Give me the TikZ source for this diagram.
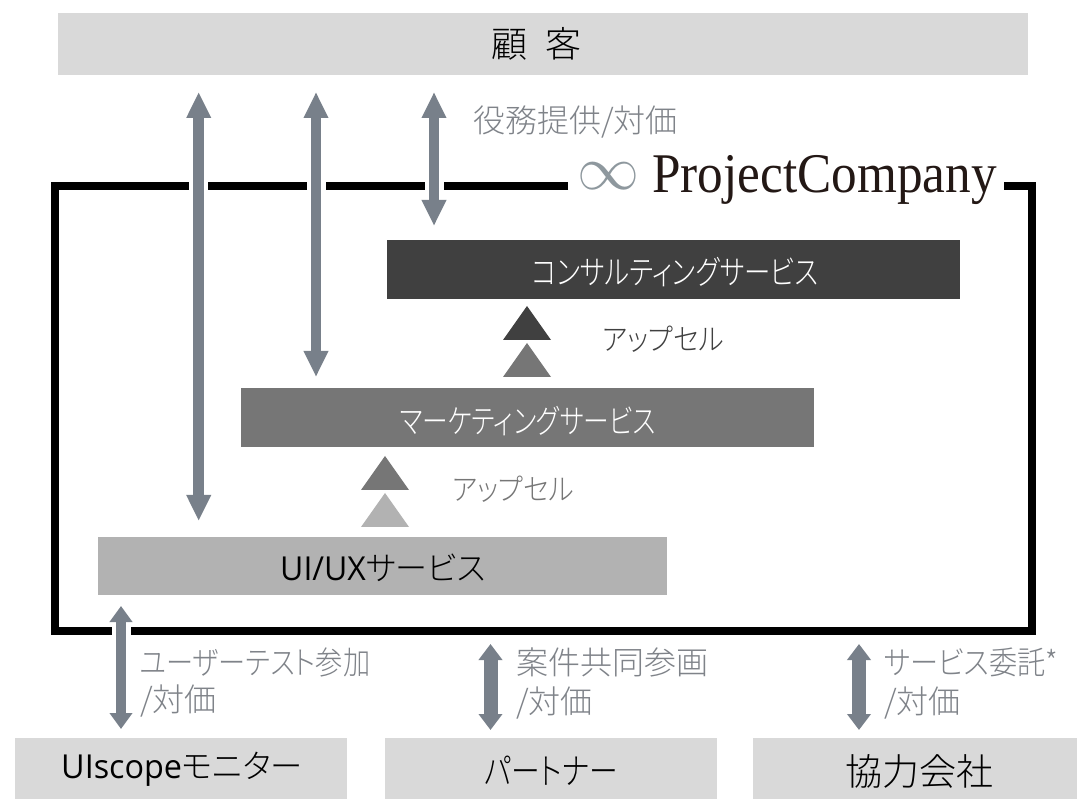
\documentclass[tikz,border=0pt]{standalone}
\usepackage{fontspec}
\setmainfont[RawFeature=+palt]{Noto Sans CJK JP Light}
\newfontfamily\logofont{Liberation Serif}
\newfontfamily\latinfont{Open Sans}
\usetikzlibrary{arrows.meta}
\definecolor{lightbox}{HTML}{D9D9D9}
\definecolor{uibox}{HTML}{B2B2B2}
\definecolor{mktbox}{HTML}{767676}
\definecolor{conbox}{HTML}{404040}
\definecolor{arrowgrey}{HTML}{78808A}
\definecolor{infgrey}{HTML}{8E989E}
\definecolor{labelgrey}{HTML}{7F8389}
\definecolor{logotext}{HTML}{231815}
\tikzset{
 x=1pt,y=-1pt,
 boxbase/.style={anchor=north west,inner sep=0pt,outer sep=0pt,align=center},
 twoway/.style={draw=arrowgrey,line width=10.5pt,{Triangle[width=23pt,length=26pt,fill=arrowgrey]}-{Triangle[width=23pt,length=26pt,fill=arrowgrey]}},
 twowaymid/.style={draw=arrowgrey,line width=10pt,{Triangle[width=22pt,length=16pt,fill=arrowgrey]}-{Triangle[width=22pt,length=16pt,fill=arrowgrey]}},
 twowayshort/.style={draw=arrowgrey,line width=14pt,{Triangle[width=23pt,length=16pt,fill=arrowgrey]}-{Triangle[width=23pt,length=16pt,fill=arrowgrey]}},
 frameline/.style={draw=black,line width=8pt,line join=miter,line cap=butt},
 lab/.style={text=labelgrey,font=\fontsize{32}{32}\selectfont,anchor=west,inner sep=0pt,align=left},
 up/.style={text=#1,font=\fontsize{30}{30}\selectfont,anchor=west,inner sep=0pt,xscale=.9},
}
\begin{document}
\begin{tikzpicture}
\useasboundingbox (0,0) rectangle (1077,799);
\fill[white] (0,0) rectangle (1077,799);
% frame
\coordinate (f1) at (568,186.3);
\coordinate (f2) at (55,186.3);
\coordinate (f3) at (55,631);
\coordinate (f4) at (1032,631);
\coordinate (f5) at (1032,186.3);
\coordinate (f6) at (1004,186.3);
\draw[frameline] (f1) -- (f2) -- (f3) -- (f4) -- (f5) -- (f6);
% boxes
\node[boxbase,fill=lightbox,minimum width=970pt,minimum height=62pt] (cust) at (58,13) {};
\node[text=black,font=\fontsize{36}{36}\selectfont] at (536,44) {顧\hspace{18pt}客};
\node[boxbase,fill=conbox,minimum width=573pt,minimum height=59pt] (con) at (387,240) {};
\node[text=white,font=\fontsize{33}{33}\selectfont,xscale=.8] at (675,272.5) {コンサルティングサービス};
\node[boxbase,fill=mktbox,minimum width=573pt,minimum height=59pt] (mkt) at (241,388) {};
\node[text=white,font=\fontsize{33}{33}\selectfont,xscale=.78] at (528,421) {マーケティングサービス};
\node[boxbase,fill=uibox,minimum width=569pt,minimum height=58pt] (ui) at (98,537) {};
\node[text=black,font=\fontsize{33}{33}\selectfont,xscale=.97] at (383,568) {{\latinfont UI/UX}サービス};
\node[boxbase,fill=lightbox,minimum width=332pt,minimum height=61pt] (mon) at (15,738) {};
\node[text=black,font=\fontsize{33}{33}\selectfont,xscale=.98] at (182,769) {{\latinfont UIscope}モニター};
\node[boxbase,fill=lightbox,minimum width=332pt,minimum height=61pt] (par) at (385,738) {};
\node[text=black,font=\fontsize{36}{36}\selectfont,xscale=.8] at (551,771) {パートナー};
\node[boxbase,fill=lightbox,minimum width=324pt,minimum height=61pt] (coop) at (753,738) {};
\node[text=black,font=\fontsize{37}{37}\selectfont] at (919,771) {協力会社};
% logo
\node[text=logotext,font=\logofont\fontsize{56}{56}\selectfont,anchor=west,inner sep=0pt,xscale=.915] (logo) at (652,180) {ProjectCompany};
\node[text=infgrey,scale=6.2,anchor=center,inner sep=0pt] (inf) at (608.5,189.5) {\smash{$\infty$}};
% arrows
\coordinate (a1t) at (198.7,92); \coordinate (a1b) at (198.7,521);
\coordinate (a2t) at (316,92); \coordinate (a2b) at (316,377);
\coordinate (a3t) at (434,92); \coordinate (a3b) at (434,226);
\coordinate (a4t) at (121,606); \coordinate (a4b) at (121,729);
\coordinate (a5t) at (490.5,644); \coordinate (a5b) at (490.5,730);
\coordinate (a6t) at (859,644); \coordinate (a6b) at (859,730);
\draw[white,line width=19pt] (198.7,180) -- (198.7,193) (316,180) -- (316,193) (434,180) -- (434,193) (121,625) -- (121,637);
\draw[twoway] (a1t) -- (a1b);
\draw[twoway] (a2t) -- (a2b);
\draw[twoway] (a3t) -- (a3b);
\draw[twowaymid] (a4t) -- (a4b);
\draw[twowayshort] (a5t) -- (a5b);
\draw[twowayshort] (a6t) -- (a6b);
% labels
\node[lab] (l1) at (473,122) {役務提供/対価};
\node[lab,xscale=.85] (l2) at (140,662) {ユーザーテスト参加};
\node[lab] (l2b) at (140,701) {/対価};
\node[lab] (l3) at (516,662) {案件共同参画};
\node[lab] (l3b) at (516,703) {/対価};
\node[lab,xscale=.88] (l4) at (884,662) {サービス委託*};
\node[lab] (l4b) at (884,703) {/対価};
\node[up=conbox] (up1) at (602,339) {アップセル};
\node[up=mktbox] (up2) at (452,489) {アップセル};
% triangles
\fill[conbox] (527,306) -- (551,340) -- (503,340) -- cycle;
\fill[mktbox] (527,343) -- (551,377) -- (503,377) -- cycle;
\fill[mktbox] (385,456) -- (409,490) -- (361,490) -- cycle;
\fill[uibox] (385,493) -- (409,527) -- (361,527) -- cycle;
\end{tikzpicture}
\end{document}
